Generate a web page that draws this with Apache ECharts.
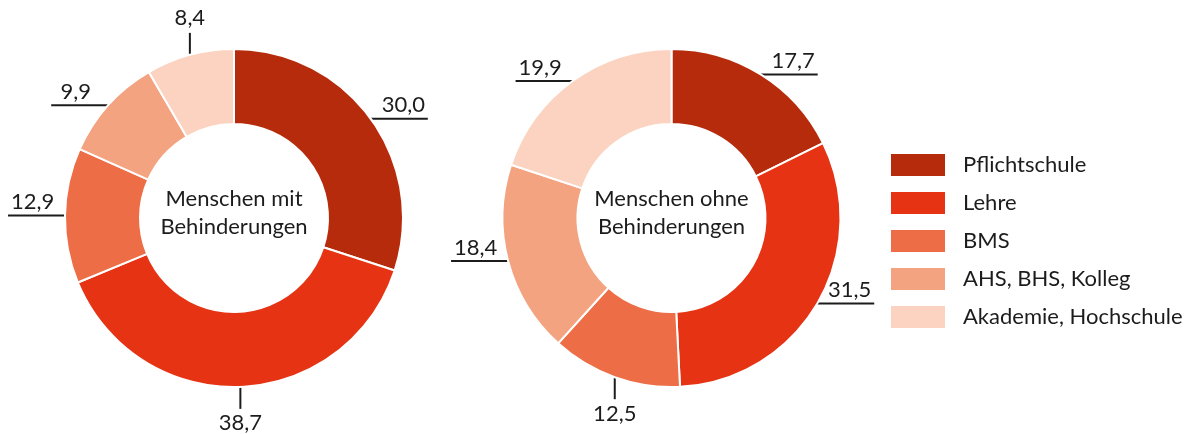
<!DOCTYPE html>
<html><head><meta charset="utf-8">
<script src="https://cdn.jsdelivr.net/npm/echarts@6/dist/echarts.min.js"></script>
<style>html,body{margin:0;padding:0;background:#fff}#c{width:1191px;height:434px}</style>
</head><body><div id="c"></div>
<script>
// ---- data ----
const categories = ['Pflichtschule', 'Lehre', 'BMS', 'AHS, BHS, Kolleg', 'Akademie, Hochschule'];
const withDisability = [30.0, 38.7, 12.9, 9.9, 8.4];
const withoutDisability = [17.7, 31.5, 12.5, 18.4, 19.9];
const groupTitles = ['Menschen mit\nBehinderungen', 'Menschen ohne\nBehinderungen'];

// ---- style ----
const colors = ['#B72B0D', '#E53314', '#ED6D46', '#F4A380', '#FBD3C0'];
const centers = [[234, 218], [671.5, 218]];
const FONT = 'Lato, "Open Sans", sans-serif';
const TXT = '#1c1c1c';
const FS = 22;

function fmt(v) { return v.toFixed(1).replace('.', ','); }

function labelLayout(params) {
  const pts = params.labelLinePoints;
  if (!pts) return {};
  const c = centers[params.seriesIndex];
  const p0 = pts[0];
  const dx = p0[0] - c[0], dy = p0[1] - c[1];
  const r = Math.hypot(dx, dy);
  if (Math.abs(dx) / r < 0.4) {
    const s = dy < 0 ? -1 : 1;
    const end = [p0[0], p0[1] + s * 22];
    return {
      x: end[0], y: end[1] + s * 2, align: 'center',
      verticalAlign: s < 0 ? 'bottom' : 'top',
      labelLinePoints: [p0, end, end]
    };
  } else {
    const s = dx < 0 ? -1 : 1;
    const end = [p0[0] + s * 57, p0[1]];
    return {
      x: (p0[0] + end[0]) / 2 + s * 4, y: p0[1] - 1, align: 'center',
      verticalAlign: 'bottom',
      labelLinePoints: [p0, end, end]
    };
  }
}

function makeSeries(values, idx) {
  return {
    type: 'pie',
    center: centers[idx],
    radius: [94, 169],
    startAngle: 90,
    clockwise: true,
    avoidLabelOverlap: false,
    silent: true,
    animation: false,
    itemStyle: { borderColor: '#ffffff', borderWidth: 2 },
    label: {
      show: true, position: 'outside',
      formatter: p => fmt(p.value),
      fontSize: FS, color: TXT, fontFamily: FONT, lineHeight: 25
    },
    labelLine: { show: true, length: 5, length2: 5, lineStyle: { color: TXT, width: 2 } },
    labelLayout: labelLayout,
    emphasis: { disabled: true },
    data: categories.map((n, i) => ({ name: n, value: values[i] }))
  };
}

const chart = echarts.init(document.getElementById('c'), null, { renderer: 'canvas' });
chart.setOption({
  animation: false,
  color: colors,
  legend: {
    orient: 'vertical', left: 889, top: 152, padding: 0,
    itemWidth: 56, itemHeight: 24, itemGap: 12, icon: 'rect',
    selectedMode: false,
    textStyle: { fontSize: FS, color: TXT, fontFamily: FONT, padding: [0, 0, 0, 12], lineHeight: 24 },
    data: categories
  },
  graphic: groupTitles.map((t, i) => ({
    type: 'text', x: centers[i][0], y: centers[i][1] - 5,
    style: { text: t, align: 'center', verticalAlign: 'middle', fontSize: FS, lineHeight: 28, fill: TXT, fontFamily: FONT }
  })),
  series: [makeSeries(withDisability, 0), makeSeries(withoutDisability, 1)]
});
</script></body></html>
